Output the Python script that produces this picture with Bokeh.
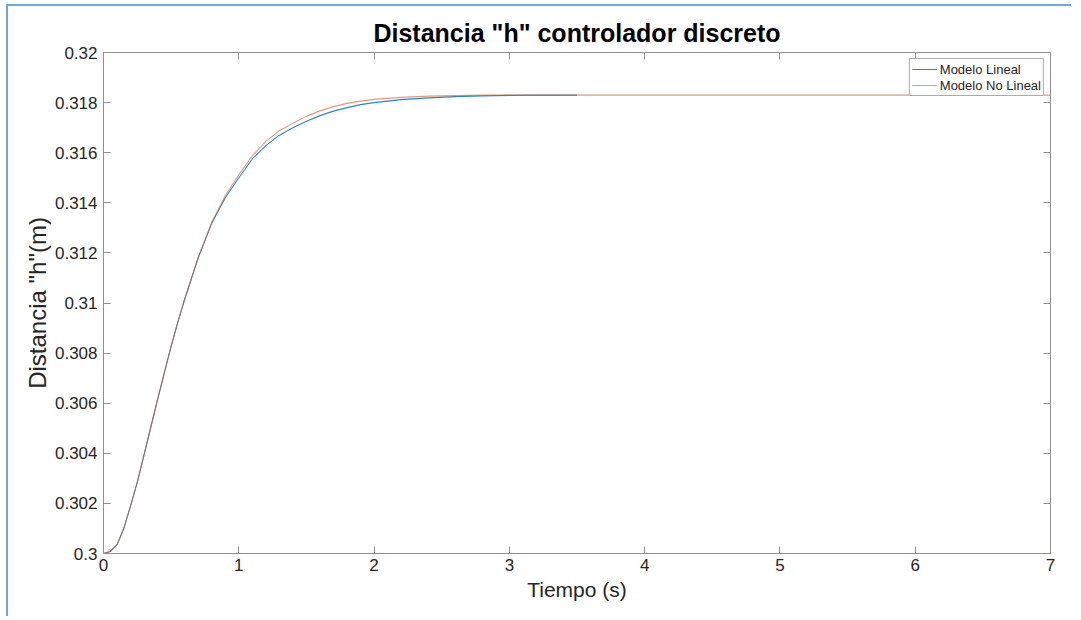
from bokeh.plotting import figure
from bokeh.models import LinearAxis, FixedTicker, Range1d, Legend, LegendItem
from bokeh.embed import file_html
from bokeh.resources import INLINE

# ---- data ----
t_lineal = [0.0, 0.05, 0.1, 0.15, 0.2, 0.25, 0.3, 0.35, 0.4, 0.45, 0.5, 0.55, 0.6,
            0.7, 0.8, 0.9, 1.0, 1.1, 1.2, 1.3, 1.4, 1.5, 1.6, 1.7, 1.8, 1.9, 2.0,
            2.2, 2.4, 2.6, 2.8, 3.0, 3.2, 3.5]
h_lineal = [0.30000, 0.30008, 0.30035, 0.30100, 0.30190, 0.30285, 0.30395, 0.30505,
            0.30615, 0.30722, 0.30828, 0.30925, 0.31015,
            0.31180, 0.31318, 0.31420, 0.31500, 0.31575, 0.31628, 0.31670, 0.31700,
            0.31726, 0.31748, 0.31766, 0.31780, 0.31792, 0.31800,
            0.31812, 0.31819, 0.31824, 0.31827, 0.31829, 0.31830, 0.31830]

t_nolineal = [0.0, 0.05, 0.1, 0.15, 0.2, 0.25, 0.3, 0.35, 0.4, 0.45, 0.5, 0.55, 0.6,
              0.7, 0.8, 0.9, 1.0, 1.1, 1.2, 1.3, 1.4, 1.5, 1.6, 1.7, 1.8, 1.9, 2.0,
              2.2, 2.4, 2.6, 2.8, 3.0, 3.5, 4.0, 5.0, 6.0, 7.0]
h_nolineal = [0.30000, 0.30008, 0.30035, 0.30100, 0.30190, 0.30285, 0.30395, 0.30505,
              0.30615, 0.30722, 0.30828, 0.30925, 0.31015,
              0.31182, 0.31322, 0.31428, 0.31512, 0.31588, 0.31645, 0.31688, 0.31718,
              0.31745, 0.31767, 0.31784, 0.31797, 0.31806, 0.31813,
              0.31821, 0.31826, 0.31828, 0.31830, 0.31830, 0.31830, 0.31830, 0.31830,
              0.31830, 0.31830]

x_ticks = [0, 1, 2, 3, 4, 5, 6, 7]
y_ticks = [0.300, 0.302, 0.304, 0.306, 0.308, 0.310, 0.312, 0.314, 0.316, 0.318, 0.320]
y_tick_labels = ["0.3", "0.302", "0.304", "0.306", "0.308", "0.31",
                 "0.312", "0.314", "0.316", "0.318", "0.32"]

title_text = 'Distancia "h" controlador discreto'
x_label = "Tiempo (s)"
y_label = 'Distancia "h"(m)'
series_names = ["Modelo Lineal", "Modelo No Lineal"]

FONT = "Liberation Sans"
AXIS_COLOR = "#8f8f8f"
TEXT_COLOR = "#262626"

p = figure(width=1065, height=612, output_backend="svg", toolbar_location=None,
           x_range=Range1d(0, 7), y_range=Range1d(0.3, 0.32),
           min_border_left=95, min_border_right=23, min_border_top=46, min_border_bottom=65,
           title=title_text)
p.styles = {"border-left": "2px solid #6fa8dc", "border-top": "2px solid #6fa8dc",
            "margin-left": "6px", "margin-top": "4px"}

p.title.align = "center"
p.title.text_font = FONT
p.title.text_font_size = "25px"
p.title.text_font_style = "bold"
p.title.text_color = "#000000"
p.title.standoff = 11

p.grid.visible = False
p.outline_line_color = AXIS_COLOR
p.outline_line_width = 1
p.background_fill_color = "white"
p.border_fill_color = "white"

def style_axis(ax):
    ax.axis_line_color = AXIS_COLOR
    ax.major_tick_line_color = AXIS_COLOR
    ax.major_tick_in = 7
    ax.major_tick_out = 0
    ax.minor_tick_line_color = None
    ax.major_label_text_font = FONT
    ax.major_label_text_font_size = "17px"
    ax.major_label_text_color = TEXT_COLOR
    ax.axis_label_text_font = FONT
    ax.axis_label_text_font_size = "21px"
    ax.axis_label_text_font_style = "normal"
    ax.axis_label_text_color = TEXT_COLOR

xa = p.xaxis[0]
xa.ticker = FixedTicker(ticks=x_ticks)
xa.axis_label = x_label
xa.major_label_standoff = 5
xa.axis_label_standoff = 4
style_axis(xa)

ya = p.yaxis[0]
ya.ticker = FixedTicker(ticks=y_ticks)
ya.major_label_overrides = {v: s for v, s in zip(y_ticks, y_tick_labels)}
ya.axis_label = y_label
ya.major_label_standoff = 6
ya.axis_label_standoff = 1
style_axis(ya)
ya.axis_label_text_font_size = "24px"

top = LinearAxis(ticker=FixedTicker(ticks=x_ticks))
style_axis(top)
top.major_label_overrides = {v: "" for v in x_ticks}
top.major_label_standoff = 0
p.add_layout(top, "above")

right = LinearAxis(ticker=FixedTicker(ticks=y_ticks))
style_axis(right)
right.major_label_overrides = {v: "" for v in y_ticks}
right.major_label_standoff = 0
p.add_layout(right, "right")

r1 = p.line(t_lineal, h_lineal, line_color="#0072BD", line_width=1.1, line_alpha=0.85)
r2 = p.line(t_nolineal, h_nolineal, line_color="#D95319", line_width=1.1, line_alpha=0.6)

legend = Legend(items=[LegendItem(label=series_names[0], renderers=[r1]),
                       LegendItem(label=series_names[1], renderers=[r2])],
                location="top_right")
legend.label_text_font = FONT
legend.label_text_font_size = "13px"
legend.label_text_color = TEXT_COLOR
legend.glyph_width = 25
legend.glyph_height = 16
legend.label_height = 16
legend.label_standoff = 3
legend.spacing = 0
legend.padding = 2
legend.margin = 6
legend.border_line_color = "#555555"
legend.border_line_width = 1
legend.background_fill_alpha = 1
p.add_layout(legend)

open("out.html", "w").write(file_html(p, INLINE))
